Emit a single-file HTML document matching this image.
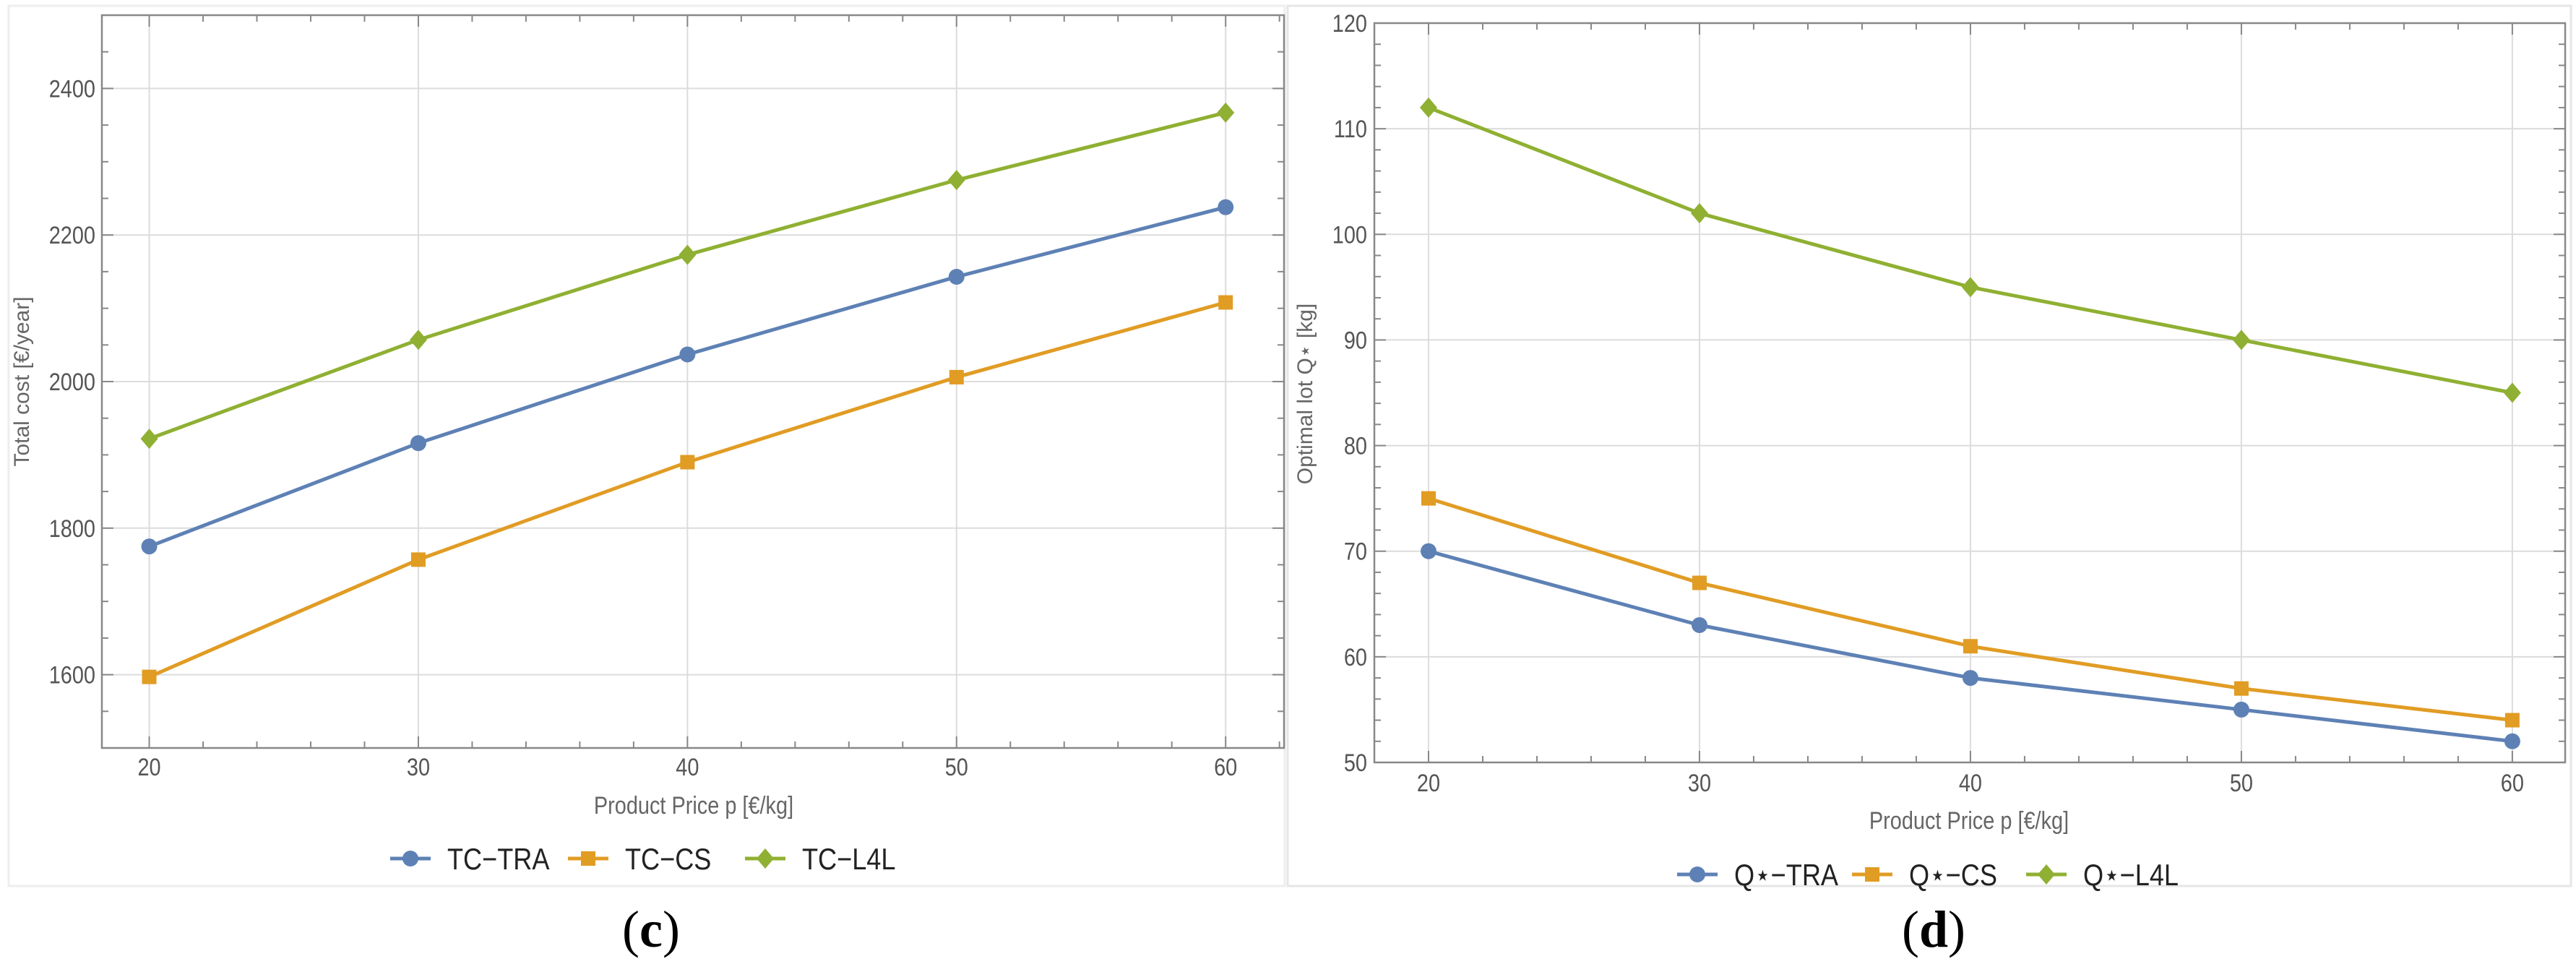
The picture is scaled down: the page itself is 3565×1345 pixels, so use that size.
<!DOCTYPE html>
<html><head><meta charset="utf-8"><style>
html,body{margin:0;padding:0;background:#fff;}
svg{display:block;}
text{font-family:"Liberation Sans",sans-serif;}
</style></head><body>
<svg id="root" width="3565" height="1345" viewBox="0 0 3565 1345" xmlns="http://www.w3.org/2000/svg">
<rect x="0" y="0" width="3565" height="1345" fill="#fff"/>
<rect x="12" y="8" width="1766" height="1218" fill="none" stroke="#eeeeee" stroke-width="3"/>
<rect x="1782" y="8" width="1776" height="1218" fill="none" stroke="#e6e6e6" stroke-width="3"/>
<g id="chartC"></g>
<g id="chartD"></g>
<text x="901" y="1310" text-anchor="middle" font-size="72" fill="#000" style="font-family:'Liberation Serif',serif">(<tspan font-weight="bold">c</tspan>)</text>
<text x="2676" y="1310" text-anchor="middle" font-size="72" fill="#000" style="font-family:'Liberation Serif',serif">(<tspan font-weight="bold">d</tspan>)</text>
</svg>
<script>
const categories = [20, 30, 40, 50, 60];
const tcTRA = [1775, 1916, 2037, 2143, 2238];
const tcCS = [1597, 1757, 1890, 2006, 2108];
const tcL4L = [1922, 2057, 2173, 2275, 2367];
const qTRA = [70, 63, 58, 55, 52];
const qCS = [75, 67, 61, 57, 54];
const qL4L = [112, 102, 95, 90, 85];
const xTickLabels = [20, 30, 40, 50, 60];
const yTicksC = [1600, 1800, 2000, 2200, 2400];
const yTicksD = [50, 60, 70, 80, 90, 100, 110, 120];
const seriesNamesC = ["TC\u2212TRA", "TC\u2212CS", "TC\u2212L4L"];
const seriesNamesD = ["Q\u22c6\u2212TRA", "Q\u22c6\u2212CS", "Q\u22c6\u2212L4L"];

const NS = "http://www.w3.org/2000/svg";
const COLORS = ["#5E81B5", "#E19C24", "#8FB032"];
function mk(parent, tag, attrs) {
  const e = document.createElementNS(NS, tag);
  for (const k in attrs) e.setAttribute(k, attrs[k]);
  parent.appendChild(e);
  return e;
}
function marker(g, shape, cx, cy, color) {
  let m;
  if (shape === 0) m = mk(g, "circle", {cx: cx, cy: cy, r: 11, fill: color});
  else if (shape === 1) m = mk(g, "rect", {x: cx - 10, y: cy - 10, width: 20, height: 20, fill: color});
  else m = mk(g, "polygon", {points: `${cx},${cy-14} ${cx+12},${cy} ${cx},${cy+14} ${cx-12},${cy}`, fill: color});
  return m;
}
function drawChart(g, cfg) {
  const L = cfg.L, R = cfg.R, T = cfg.T, B = cfg.B;
  const xs = v => L + (v - cfg.xmin) / (cfg.xmax - cfg.xmin) * (R - L);
  const ys = v => B - (v - cfg.ymin) / (cfg.ymax - cfg.ymin) * (B - T);
  xTickLabels.forEach(v => {
    const l = mk(g, "line", {x1: xs(v), x2: xs(v), y1: T, y2: B, stroke: "#dcdcdc", "stroke-width": 2});
    
    
  });
  cfg.yTicks.forEach(v => {
    if (v <= cfg.ymin || v >= cfg.ymax) return;
    const l = mk(g, "line", {x1: L, x2: R, y1: ys(v), y2: ys(v), stroke: "#dcdcdc", "stroke-width": 2});
    
    
  });
  const fr = mk(g, "rect", {x: L, y: T, width: R - L, height: B - T, fill: "none", stroke: "#888", "stroke-width": 2.5});
  
  
  for (let v = Math.ceil(cfg.xmin / 2) * 2; v <= cfg.xmax; v += 2) {
    const len = v % 10 === 0 ? 16 : 9;
    mk(g, "line", {x1: xs(v), x2: xs(v), y1: B, y2: B - len, stroke: "#888", "stroke-width": 2});
    mk(g, "line", {x1: xs(v), x2: xs(v), y1: T, y2: T + len, stroke: "#888", "stroke-width": 2});
  }
  for (let v = cfg.ymin; v <= cfg.ymax + 1e-9; v += cfg.yMinor) {
    const maj = Math.abs(v / cfg.yMajor - Math.round(v / cfg.yMajor)) < 1e-6;
    const len = maj ? 16 : 9;
    mk(g, "line", {x1: L, x2: L + len, y1: ys(v), y2: ys(v), stroke: "#888", "stroke-width": 2});
    mk(g, "line", {x1: R, x2: R - len, y1: ys(v), y2: ys(v), stroke: "#888", "stroke-width": 2});
  }
  xTickLabels.forEach(v => {
    const t = mk(g, "text", {x: xs(v), y: cfg.xLabY, "text-anchor": "middle", "font-size": 34, fill: "#555", transform: `translate(${xs(v)},0) scale(0.85,1) translate(${-xs(v)},0)`});
    t.textContent = v;
    
    
  });
  cfg.yTicks.forEach(v => {
    const t = mk(g, "text", {x: cfg.yLabX, y: ys(v) + 12, "text-anchor": "end", "font-size": 34, fill: "#555", transform: `translate(${cfg.yLabX},0) scale(0.85,1) translate(${-cfg.yLabX},0)`});
    t.textContent = v;
    
    
  });
  const xt = mk(g, "text", {x: cfg.xTitleX, y: cfg.xTitleY, "text-anchor": "middle", "font-size": 34, fill: "#666", transform: `translate(${cfg.xTitleX},0) scale(0.85,1) translate(${-cfg.xTitleX},0)`});
  xt.textContent = "Product Price p [\u20ac/kg]";
  
  
  const yt = mk(g, "text", {x: 0, y: 0, "text-anchor": "middle", "font-size": 30, fill: "#666", transform: `translate(${cfg.yTitleX},${cfg.yTitleY}) rotate(-90)`});
  yt.textContent = cfg.yTitle;
  
  
  cfg.series.forEach((vals, i) => {
    const sg = mk(g, "g", {});
    
    
    const pts = vals.map((v, j) => xs(categories[j]) + "," + ys(v)).join(" ");
    const pl = mk(sg, "polyline", {points: pts, fill: "none", stroke: COLORS[i], "stroke-width": 5, "stroke-linejoin": "round"});
    
    
    vals.forEach((v, j) => {
      const m = marker(sg, i, xs(categories[j]), ys(v), COLORS[i]);
      
      
    });
  });
  cfg.names.forEach((n, i) => {
    const lg = mk(g, "g", {});
    
    
    const x0 = cfg.legX[i];
    mk(lg, "line", {x1: x0, x2: x0 + 56, y1: cfg.legY, y2: cfg.legY, stroke: COLORS[i], "stroke-width": 5});
    marker(lg, i, x0 + 28, cfg.legY, COLORS[i]);
    const tx = x0 + 79;
    const t = mk(lg, "text", {x: tx, y: cfg.legY + 15, "font-size": 42, fill: "#222", transform: `translate(${tx},0) scale(0.86,1) translate(${-tx},0)`});
    t.textContent = n;
  });
}
drawChart(document.getElementById("chartC"), {
  L: 141, R: 1777, T: 21, B: 1035, xmin: 18.24, xmax: 62.17, ymin: 1500, ymax: 2500,
  yTicks: yTicksC, yMajor: 200, yMinor: 50, xLabY: 1073, yLabX: 132,
  xTitleX: 960, xTitleY: 1126, yTitleX: 40, yTitleY: 528, yTitle: "Total cost [\u20ac/year]",
  series: [tcTRA, tcCS, tcL4L], names: seriesNamesC, legX: [540, 786, 1031], legY: 1188
});
drawChart(document.getElementById("chartD"), {
  L: 1902, R: 3550, T: 32, B: 1055, xmin: 18.0, xmax: 61.95, ymin: 50, ymax: 120,
  yTicks: yTicksD, yMajor: 10, yMinor: 2, xLabY: 1095, yLabX: 1892,
  xTitleX: 2725, xTitleY: 1147, yTitleX: 1816, yTitleY: 545, yTitle: "Optimal lot Q\u22c6 [kg]",
  series: [qTRA, qCS, qL4L], names: seriesNamesD, legX: [2321, 2563, 2804], legY: 1210
});
</script>
</body></html>
